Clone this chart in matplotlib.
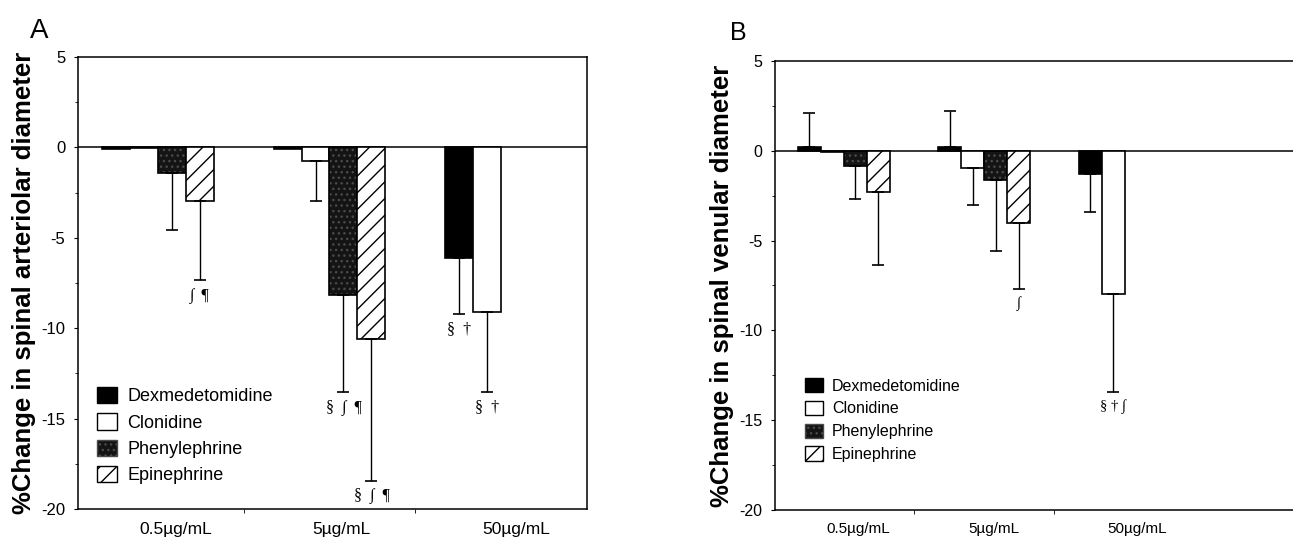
import numpy as np
import matplotlib
matplotlib.use("Agg")
import matplotlib.pyplot as plt
from matplotlib.patches import Patch

plt.rcParams['font.family'] = ['Liberation Sans', 'DejaVu Sans']
plt.rcParams['hatch.linewidth'] = 1.0

# ---------------- data ----------------
doses = ["0.5\u00b5g/mL", "5\u00b5g/mL", "50\u00b5g/mL"]
drugs = ["Dexmedetomidine", "Clonidine", "Phenylephrine", "Epinephrine"]

# Panel A: % change in spinal arteriolar diameter (mean, SD)
art_dex = [-0.1, -0.1, -6.1]
art_clo = [-0.05, -0.75, -9.1]
art_phe = [-1.4, -8.15, np.nan]
art_epi = [-2.95, -10.6, np.nan]
art_dex_sd = [np.nan, np.nan, 3.1]
art_clo_sd = [np.nan, 2.2, 4.45]
art_phe_sd = [3.15, 5.4, np.nan]
art_epi_sd = [4.4, 7.85, np.nan]
art_marks = {(3, 0): "\u222b  \u00b6", (2, 1): "\u00a7  \u222b  \u00b6", (3, 1): "\u00a7  \u222b  \u00b6",
             (0, 2): "\u00a7  \u2020", (1, 2): "\u00a7  \u2020"}

# Panel B: % change in spinal venular diameter (mean, SD)
ven_dex = [0.2, 0.2, -1.3]
ven_clo = [-0.05, -0.93, -8.0]
ven_phe = [-0.83, -1.63, np.nan]
ven_epi = [-2.28, -4.04, np.nan]
ven_dex_sd = [1.9, 2.0, 2.1]
ven_clo_sd = [np.nan, 2.07, 5.45]
ven_phe_sd = [1.85, 3.95, np.nan]
ven_epi_sd = [4.1, 3.65, np.nan]
ven_marks = {(3, 1): "\u222b", (1, 2): "\u00a7 \u2020 \u222b"}

yticks = [5, 0, -5, -10, -15, -20]

# ---------------- styling ----------------
W = 0.163
offsets = np.array([-1.5, -0.5, 0.5, 1.5]) * W
serif = ['Liberation Serif', 'DejaVu Serif']
PHE_FACE = '#141414'
PHE_DOT = '#4a4a4a'

fig = plt.figure(figsize=(12.93, 5.40), dpi=100)


def draw_panel(ax, series, sds, marks, xlim, ylabel, tick_fs, xlab_fs, leg_fs, leg_anchor, mark_fs):
    x = np.arange(len(doses))
    for i, (vals, sd) in enumerate(zip(series, sds)):
        vals = np.array(vals, dtype=float)
        sd = np.array(sd, dtype=float)
        xs = x + offsets[i]
        if i == 0:
            ax.bar(xs, vals, W, color='black', edgecolor='black', lw=1.2, zorder=2)
        elif i == 1:
            ax.bar(xs, vals, W, color='white', edgecolor='black', lw=1.2, zorder=2)
        elif i == 2:
            ax.bar(xs, vals, W, color=PHE_FACE, edgecolor=PHE_DOT, hatch='...', lw=0, zorder=2)
            ax.bar(xs, vals, W, color='none', edgecolor='black', lw=1.2, zorder=2)
        else:
            ax.bar(xs, vals, W, color='white', edgecolor='black', hatch='//', lw=1.2, zorder=2)
        m = ~np.isnan(sd) & ~np.isnan(vals)
        lower = np.where(vals < 0, sd, 0)[m]
        upper = np.where(vals >= 0, sd, 0)[m]
        ax.errorbar(xs[m], vals[m], yerr=[lower, upper], fmt='none', ecolor='black',
                    elinewidth=1, capsize=4.5, capthick=1.2, zorder=3)
    for (i, g), txt in marks.items():
        v = series[i][g]
        e = sds[i][g]
        ax.text(g + offsets[i], v - e - 0.4, txt, ha='center', va='top',
                fontsize=mark_fs, family=serif)
    ax.axhline(0, color='black', lw=1.1, zorder=1)
    ax.set_xlim(*xlim)
    ax.set_ylim(-20, 5)
    ax.set_yticks(yticks)
    ax.set_yticklabels([str(t) for t in yticks], fontsize=tick_fs)
    ax.set_yticks(np.arange(-17.5, 5, 5), minor=True)
    ax.tick_params(axis='y', which='major', direction='out', length=3, pad=6)
    ax.tick_params(axis='y', which='minor', direction='out', length=2)
    ax.set_xticks([0.1, 1.07, 2.09])
    ax.set_xticklabels(doses, fontsize=xlab_fs)
    ax.set_xticks([0.5, 1.5], minor=True)
    ax.tick_params(axis='x', which='major', length=0, pad=9)
    ax.tick_params(axis='x', which='minor', direction='out', length=3)
    ax.set_ylabel(ylabel, fontsize=18.5, fontweight='bold', labelpad=4)
    for s in ax.spines.values():
        s.set_linewidth(1.1)
    handles = [Patch(facecolor='black', edgecolor='black'),
               Patch(facecolor='white', edgecolor='black'),
               Patch(facecolor=PHE_FACE, edgecolor=PHE_DOT, hatch='...'),
               Patch(facecolor='white', edgecolor='black', hatch='//')]
    ax.legend(handles, drugs, loc='upper left', bbox_to_anchor=leg_anchor, frameon=False,
              fontsize=leg_fs, handlelength=1.1, handleheight=1.0, handletextpad=0.6,
              labelspacing=0.45, borderpad=0, borderaxespad=0)


axA = fig.add_axes([0.0603, 0.0574, 0.3937, 0.8370])
draw_panel(axA, [art_dex, art_clo, art_phe, art_epi],
           [art_dex_sd, art_clo_sd, art_phe_sd, art_epi_sd], art_marks,
           (-0.468, 2.503), "%Change in spinal arteriolar diameter", 12, 12.5, 13, (0.037, 0.27), 11.5)

axB = fig.add_axes([0.5994, 0.0556, 0.4006, 0.8314])
draw_panel(axB, [ven_dex, ven_clo, ven_phe, ven_epi],
           [ven_dex_sd, ven_clo_sd, ven_phe_sd, ven_epi_sd], ven_marks,
           (-0.49, 3.2), "%Change in spinal venular diameter", 11.5, 11, 11.5, (0.058, 0.294), 10.5)
axB.spines['right'].set_visible(False)

fig.text(0.0232, 0.9296, "A", fontsize=20, ha='left', va='baseline')
fig.text(0.5646, 0.926, "B", fontsize=18, ha='left', va='baseline')

fig.savefig("out.png", dpi=100)
